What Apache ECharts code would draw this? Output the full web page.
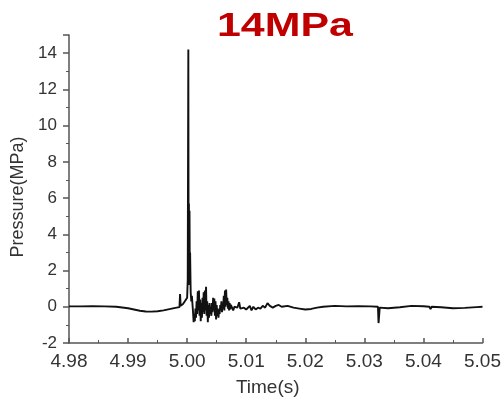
<!DOCTYPE html>
<html>
	<head>
		<meta charset="UTF-8">
		<title>14MPa</title>
	</head>
	<style>
		*{margin:0;padding:0;}
		html,body{width:100%;height:100%;background:#fff;}
		.chart{width:504px;height:402px;}
	</style>
	<body>
		<div id='chart' class='chart'></div>
	</body>
	<script src="https://cdn.jsdelivr.net/npm/echarts@6/dist/echarts.min.js"></script>
	<script>
		// pressure trace (time in s, pressure in MPa)
		var times=[4.980,4.982,4.984,4.986,4.988,4.990,4.991,4.992,4.993,4.994,4.995,4.996,4.997,4.998,4.9987,
			4.9988,4.9989,4.9993,4.9997,5.0000,5.0001,5.0002,5.00025,5.0003,5.00035,5.0004,5.00045,5.0005,5.0006,5.0007,5.0008,
			5.0010,5.0011,5.0012,5.0013,5.0014,5.0015,5.0016,5.0017,5.0018,5.0019,5.0020,5.0021,5.0022,5.0023,5.0024,5.0025,
			5.0026,5.0027,5.0028,5.0029,5.0030,5.0031,5.0032,5.0033,5.0034,5.0035,5.0036,5.0037,5.0038,5.0039,5.0040,5.0041,
			5.0042,5.0043,5.0044,5.0045,5.0046,5.0047,5.0048,5.0049,5.0050,5.0051,5.0052,5.0053,5.0054,5.0055,5.0056,5.0057,
			5.0058,5.0059,5.0060,5.0061,5.0062,5.0063,5.0064,5.0065,5.0066,5.0067,5.0068,5.0069,5.0070,5.0071,5.0072,5.0073,5.0074,
			5.0076,5.0078,5.0080,5.0082,5.0085,5.0088,5.0090,5.0093,5.0096,5.0100,5.0103,5.0106,5.0109,5.0112,5.0116,5.0120,
			5.0124,5.0128,5.0132,5.0136,5.0140,5.0145,5.0150,5.0155,5.0160,5.0170,5.0180,5.0190,5.0200,5.0210,5.0220,5.0230,
			5.0250,5.0270,5.0290,5.0310,5.0323,5.0324,5.0326,5.0340,5.0360,5.0380,5.0400,5.0410,5.0412,5.0414,5.0430,5.0450,
			5.0470,5.0490,5.0500];
		var pressure=[0.02,0.02,0.03,0.02,0.0,-0.08,-0.15,-0.22,-0.26,-0.27,-0.25,-0.2,-0.13,-0.06,-0.02,
			0.7,0.05,0.15,0.35,0.5,1.5,14.2,1.2,5.7,2.0,5.3,1.5,3.0,0.8,0.3,0.6,
			-0.3,-0.85,-0.4,-0.8,-0.1,-0.6,0.3,-0.4,0.85,-0.2,0.9,-0.5,0.4,-0.8,0.2,-0.6,
			0.5,-0.3,0.8,-0.4,0.9,-0.2,1.1,-0.5,0.3,-0.85,0.1,-0.6,0.2,-0.4,-0.1,-0.5,
			0.2,-0.3,0.5,-0.2,0.45,-0.5,0.3,-0.7,0.1,-0.5,-0.1,-0.6,-0.2,-0.4,0.1,-0.2,
			0.3,-0.3,0.2,-0.1,0.6,-0.2,0.9,0.0,0.95,0.1,0.5,-0.1,0.3,-0.2,0.2,-0.15,0.1,
			0.1,-0.2,0.0,-0.1,-0.05,0.25,-0.1,-0.2,-0.05,-0.15,-0.1,0.05,-0.2,0.0,-0.15,-0.05,
			-0.1,0.05,-0.05,0.2,0.05,-0.05,0.05,0.1,0.0,0.05,-0.05,-0.1,-0.15,-0.12,-0.05,0.0,
			0.05,0.02,0.03,0.02,0.0,-0.9,-0.05,-0.08,-0.03,0.05,0.03,0.0,-0.12,0.0,-0.03,-0.08,
			-0.06,-0.02,0.0];
		var xTicks={min:4.98,max:5.05,step:0.01};
		var yTicks={min:-2,max:15,step:2};

		var pts=[];
		for(var i=0;i<times.length;i++){
			pts.push([times[i],pressure[i]]);
		}

		var chart=echarts.init(document.getElementById('chart'));
		var axisGrey='#555';
		var opt={
			backgroundColor:'#fff',
			animation:false,
			// title drawn as graphic so it can be stretched wide like the picture
			graphic:[{
				type:'text',
				x:217,
				y:27,
				scaleX:1.3,
				style:{
					text:'14MPa',
					fill:'#C00000',
					font:'bold 33px "Liberation Sans"',
					verticalAlign:'middle'
				}
			}],
			grid:{left:69,right:16,top:35,bottom:56},
			xAxis:{
				type:'value',
				min:xTicks.min,
				max:xTicks.max,
				interval:xTicks.step,
				name:'Time(s)',
				nameLocation:'middle',
				nameGap:35,
				nameTextStyle:{color:'#333',fontSize:19,fontFamily:'Liberation Sans',padding:[0,16,0,0]},
				axisLine:{show:true,onZero:false,lineStyle:{color:axisGrey,width:1.5}},
				axisTick:{show:true,inside:true,length:5,lineStyle:{color:axisGrey,width:1.5}},
				minorTick:{show:true,splitNumber:2,length:3,lineStyle:{color:axisGrey}},
				axisLabel:{color:'#333',fontSize:19,fontFamily:'Liberation Sans',margin:9,
					formatter:function(v){return v.toFixed(2);}},
				splitLine:{show:false}
			},
			yAxis:{
				type:'value',
				min:yTicks.min,
				max:yTicks.max,
				interval:yTicks.step,
				name:'Pressure(MPa)',
				nameLocation:'middle',
				nameGap:32,
				nameTextStyle:{color:'#333',fontSize:18,fontFamily:'Liberation Sans',padding:[0,16,0,0]},
				axisLine:{show:true,lineStyle:{color:axisGrey,width:1.5}},
				axisTick:{show:true,length:6,lineStyle:{color:axisGrey,width:1.5}},
				minorTick:{show:true,splitNumber:2,length:3,lineStyle:{color:axisGrey}},
				axisLabel:{color:'#333',fontSize:17,fontFamily:'Liberation Sans',margin:12,showMaxLabel:false,
					formatter:function(v){return v>14?'':v;}},
				splitLine:{show:false}
			},
			series:[{
				type:'line',
				data:pts,
				showSymbol:false,
				lineStyle:{color:'#111',width:1.9},
				z:3
			}]
		};
		chart.setOption(opt);
	</script>
</html>
